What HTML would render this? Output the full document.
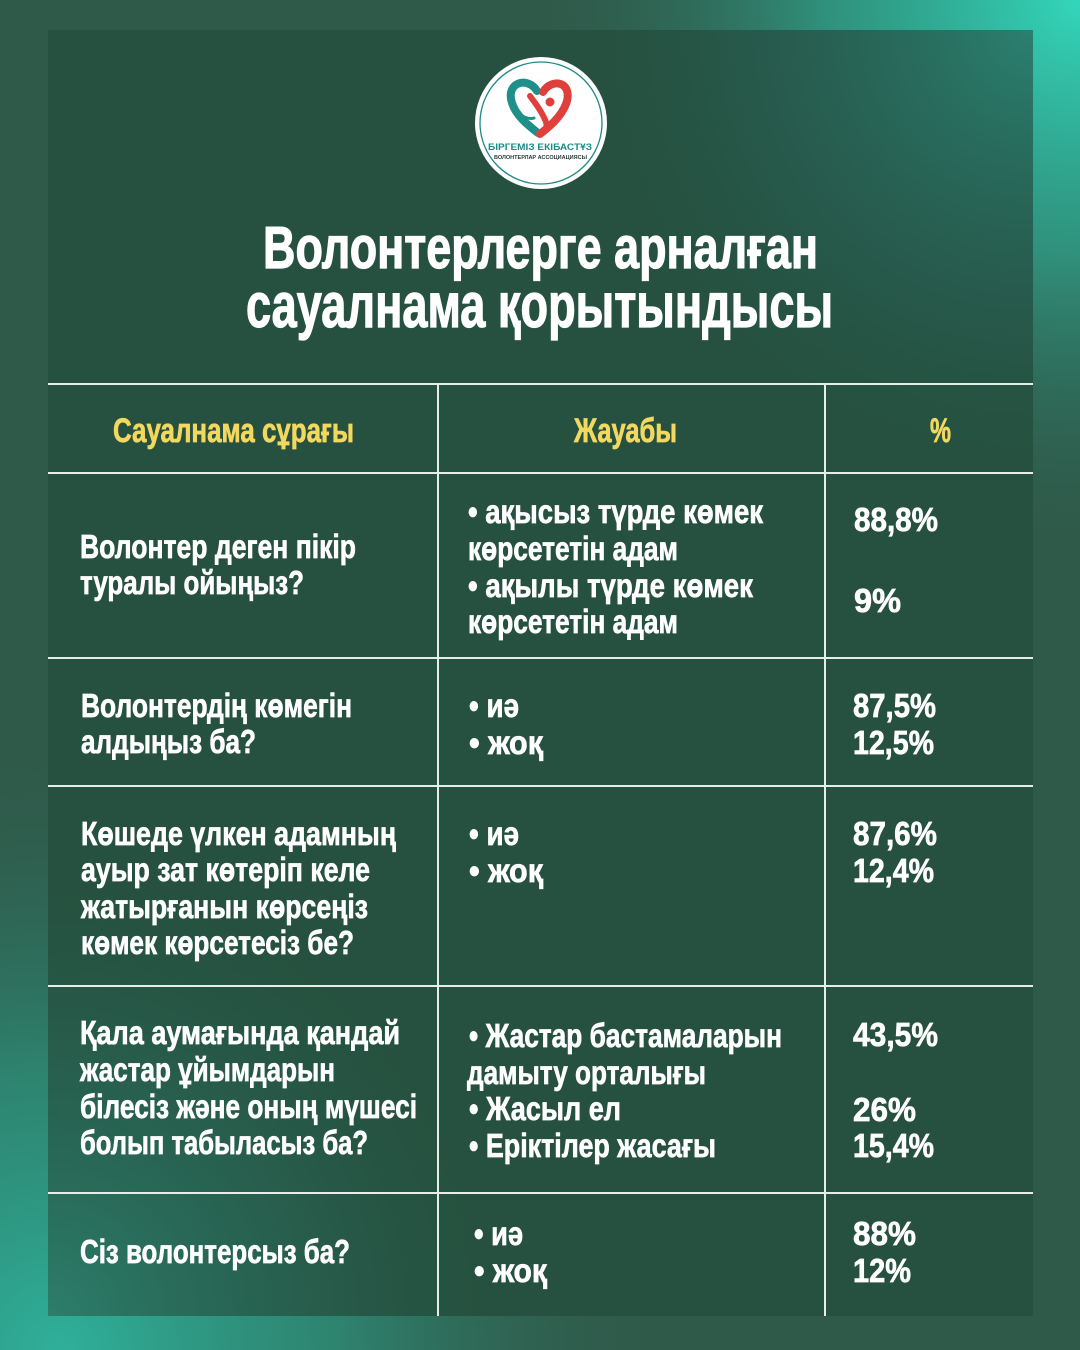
<!DOCTYPE html>
<html>
<head>
<meta charset="utf-8">
<style>
  html,body{margin:0;padding:0;background:#2f5a4a;}
  svg{display:block;}
  .t{font-family:"Liberation Sans","DejaVu Sans","Noto Sans CJK SC",sans-serif;font-weight:bold;}
</style>
</head>
<body>
<svg width="1080" height="1350" viewBox="0 0 1080 1350" xmlns="http://www.w3.org/2000/svg">
  <defs>
    <radialGradient id="bgTR" cx="1080" cy="0" r="560" gradientUnits="userSpaceOnUse">
      <stop offset="0" stop-color="#33d6bb" stop-opacity="1"/>
      <stop offset="0.45" stop-color="#30a48d" stop-opacity="0.75"/>
      <stop offset="1" stop-color="#2f5a4a" stop-opacity="0"/>
    </radialGradient>
    <radialGradient id="bgBL" cx="60" cy="1350" r="620" gradientUnits="userSpaceOnUse">
      <stop offset="0" stop-color="#2fb09a" stop-opacity="1"/>
      <stop offset="0.45" stop-color="#2e957f" stop-opacity="0.7"/>
      <stop offset="1" stop-color="#2f5a4a" stop-opacity="0"/>
    </radialGradient>
    <radialGradient id="pTR" cx="1033" cy="30" r="500" gradientUnits="userSpaceOnUse">
      <stop offset="0" stop-color="#2a8070" stop-opacity="1"/>
      <stop offset="0.5" stop-color="#28665a" stop-opacity="0.55"/>
      <stop offset="1" stop-color="#26503f" stop-opacity="0"/>
    </radialGradient>
    <radialGradient id="pBL" cx="48" cy="1316" r="500" gradientUnits="userSpaceOnUse">
      <stop offset="0" stop-color="#2c7e6b" stop-opacity="1"/>
      <stop offset="0.5" stop-color="#296a59" stop-opacity="0.55"/>
      <stop offset="1" stop-color="#26503f" stop-opacity="0"/>
    </radialGradient>
    <clipPath id="panelClip"><rect x="48" y="30" width="985" height="1286"/></clipPath>
  </defs>

  <!-- outer background -->
  <rect x="0" y="0" width="1080" height="1350" fill="#2f5a4a"/>
  <rect x="0" y="0" width="1080" height="1350" fill="url(#bgTR)"/>
  <rect x="0" y="0" width="1080" height="1350" fill="url(#bgBL)"/>

  <!-- panel -->
  <rect x="48" y="30" width="985" height="1286" fill="#26503f"/>
  <g clip-path="url(#panelClip)">
    <rect x="48" y="30" width="985" height="1286" fill="url(#pTR)"/>
    <rect x="48" y="30" width="985" height="1286" fill="url(#pBL)"/>
  </g>

  <!-- logo -->
  <circle cx="541" cy="123" r="66" fill="#ffffff"/>
  <circle cx="541" cy="123" r="61" fill="none" stroke="#1f8a86" stroke-width="1.3"/>
  <path d="M537 91 C528 76, 505 82, 512 103 C516 116, 529 126, 538 133" fill="none" stroke="#1f8f8a" stroke-width="8" stroke-linecap="round"/>
  <path d="M516 112 C522 116, 528 120, 534 118" fill="none" stroke="#1f8f8a" stroke-width="3" stroke-linecap="round"/>
  <path d="M543 92 C552 77, 574 82, 566 104 C561 117, 549 127, 540 134" fill="none" stroke="#e0403c" stroke-width="8" stroke-linecap="round"/>
  <path d="M530 96 C536 104, 542 112, 546 122 C548 128, 544 132, 540 134" fill="none" stroke="#e0403c" stroke-width="6" stroke-linecap="round"/>
  <circle cx="550" cy="102" r="6.5" fill="#ffffff"/>
  <circle cx="550" cy="102" r="4.5" fill="#e0403c"/>
  <text class="t" x="488" y="150" font-size="9.5" fill="#1c8c88" textLength="104" lengthAdjust="spacingAndGlyphs">БІРГЕМІЗ ЕКІБАСТҰЗ</text>
  <text class="t" x="494" y="159" font-size="5" fill="#2a3a38" textLength="93" lengthAdjust="spacingAndGlyphs">ВОЛОНТЕРЛАР АССОЦИАЦИЯСЫ</text>

  <!-- title -->
  <g class="t" fill="#ffffff" stroke="#ffffff" stroke-width="1.2">
    <text x="263" y="268" font-size="59" textLength="555" lengthAdjust="spacingAndGlyphs">Волонтерлерге арналған</text>
    <text x="246" y="327" font-size="63" textLength="587" lengthAdjust="spacingAndGlyphs">сауалнама қорытындысы</text>
  </g>

  <!-- table lines -->
  <g stroke="#e6eee9" stroke-width="2">
    <line x1="48" y1="384" x2="1033" y2="384"/>
    <line x1="48" y1="473" x2="1033" y2="473"/>
    <line x1="48" y1="658" x2="1033" y2="658"/>
    <line x1="48" y1="786" x2="1033" y2="786"/>
    <line x1="48" y1="986" x2="1033" y2="986"/>
    <line x1="48" y1="1193" x2="1033" y2="1193"/>
    <line x1="438" y1="384" x2="438" y2="1316"/>
    <line x1="825" y1="384" x2="825" y2="1316"/>
  </g>

  <!-- header -->
  <g class="t" font-size="34" fill="#f3d860" stroke="#f3d860" stroke-width="0.7">
    <text x="113" y="442" textLength="241" lengthAdjust="spacingAndGlyphs">Сауалнама сұрағы</text>
    <text x="574" y="442" textLength="103" lengthAdjust="spacingAndGlyphs">Жауабы</text>
    <text x="930" y="442" textLength="21" lengthAdjust="spacingAndGlyphs">%</text>
  </g>

  <!-- body -->
  <g class="t" font-size="33" fill="#ffffff" stroke="#ffffff" stroke-width="0.7">
    <!-- row 1 -->
    <text x="80" y="558" textLength="276" lengthAdjust="spacingAndGlyphs">Волонтер деген пікір</text>
    <text x="80" y="594" textLength="224" lengthAdjust="spacingAndGlyphs">туралы ойыңыз?</text>
    <text x="468" y="523" textLength="295" lengthAdjust="spacingAndGlyphs">• ақысыз түрде көмек</text>
    <text x="468" y="560" textLength="210" lengthAdjust="spacingAndGlyphs">көрсететін адам</text>
    <text x="468" y="597" textLength="285" lengthAdjust="spacingAndGlyphs">• ақылы түрде көмек</text>
    <text x="468" y="633" textLength="210" lengthAdjust="spacingAndGlyphs">көрсететін адам</text>
    <text x="854" y="531" textLength="84" lengthAdjust="spacingAndGlyphs">88,8%</text>
    <text x="854" y="612" textLength="47" lengthAdjust="spacingAndGlyphs">9%</text>

    <!-- row 2 -->
    <text x="81" y="717" textLength="271" lengthAdjust="spacingAndGlyphs">Волонтердің көмегін</text>
    <text x="81" y="753" textLength="175" lengthAdjust="spacingAndGlyphs">алдыңыз ба?</text>
    <text x="469" y="717" textLength="50" lengthAdjust="spacingAndGlyphs">• иә</text>
    <text x="469" y="754" textLength="74" lengthAdjust="spacingAndGlyphs">• жоқ</text>
    <text x="853" y="717" textLength="83" lengthAdjust="spacingAndGlyphs">87,5%</text>
    <text x="853" y="754" textLength="81" lengthAdjust="spacingAndGlyphs">12,5%</text>

    <!-- row 3 -->
    <text x="81" y="845" textLength="315" lengthAdjust="spacingAndGlyphs">Көшеде үлкен адамның</text>
    <text x="81" y="881" textLength="289" lengthAdjust="spacingAndGlyphs">ауыр зат көтеріп келе</text>
    <text x="81" y="918" textLength="287" lengthAdjust="spacingAndGlyphs">жатырғанын көрсеңіз</text>
    <text x="81" y="954" textLength="273" lengthAdjust="spacingAndGlyphs">көмек көрсетесіз бе?</text>
    <text x="469" y="845" textLength="50" lengthAdjust="spacingAndGlyphs">• иә</text>
    <text x="469" y="882" textLength="74" lengthAdjust="spacingAndGlyphs">• жоқ</text>
    <text x="853" y="845" textLength="84" lengthAdjust="spacingAndGlyphs">87,6%</text>
    <text x="853" y="882" textLength="81" lengthAdjust="spacingAndGlyphs">12,4%</text>

    <!-- row 4 -->
    <text x="80" y="1044" textLength="320" lengthAdjust="spacingAndGlyphs">Қала аумағында қандай</text>
    <text x="80" y="1081" textLength="255" lengthAdjust="spacingAndGlyphs">жастар ұйымдарын</text>
    <text x="80" y="1118" textLength="337" lengthAdjust="spacingAndGlyphs">білесіз және оның мүшесі</text>
    <text x="80" y="1154" textLength="288" lengthAdjust="spacingAndGlyphs">болып табыласыз ба?</text>
    <text x="469" y="1047" textLength="313" lengthAdjust="spacingAndGlyphs">• Жастар бастамаларын</text>
    <text x="467" y="1084" textLength="239" lengthAdjust="spacingAndGlyphs">дамыту орталығы</text>
    <text x="469" y="1120" textLength="152" lengthAdjust="spacingAndGlyphs">• Жасыл ел</text>
    <text x="469" y="1157" textLength="247" lengthAdjust="spacingAndGlyphs">• Еріктілер жасағы</text>
    <text x="853" y="1046" textLength="85" lengthAdjust="spacingAndGlyphs">43,5%</text>
    <text x="853" y="1121" textLength="63" lengthAdjust="spacingAndGlyphs">26%</text>
    <text x="853" y="1157" textLength="81" lengthAdjust="spacingAndGlyphs">15,4%</text>

    <!-- row 5 -->
    <text x="80" y="1263" textLength="270" lengthAdjust="spacingAndGlyphs">Сіз волонтерсыз ба?</text>
    <text x="474" y="1245" textLength="49" lengthAdjust="spacingAndGlyphs">• иә</text>
    <text x="474" y="1282" textLength="73" lengthAdjust="spacingAndGlyphs">• жоқ</text>
    <text x="853" y="1245" textLength="63" lengthAdjust="spacingAndGlyphs">88%</text>
    <text x="853" y="1282" textLength="58" lengthAdjust="spacingAndGlyphs">12%</text>
  </g>
</svg>
</body>
</html>
